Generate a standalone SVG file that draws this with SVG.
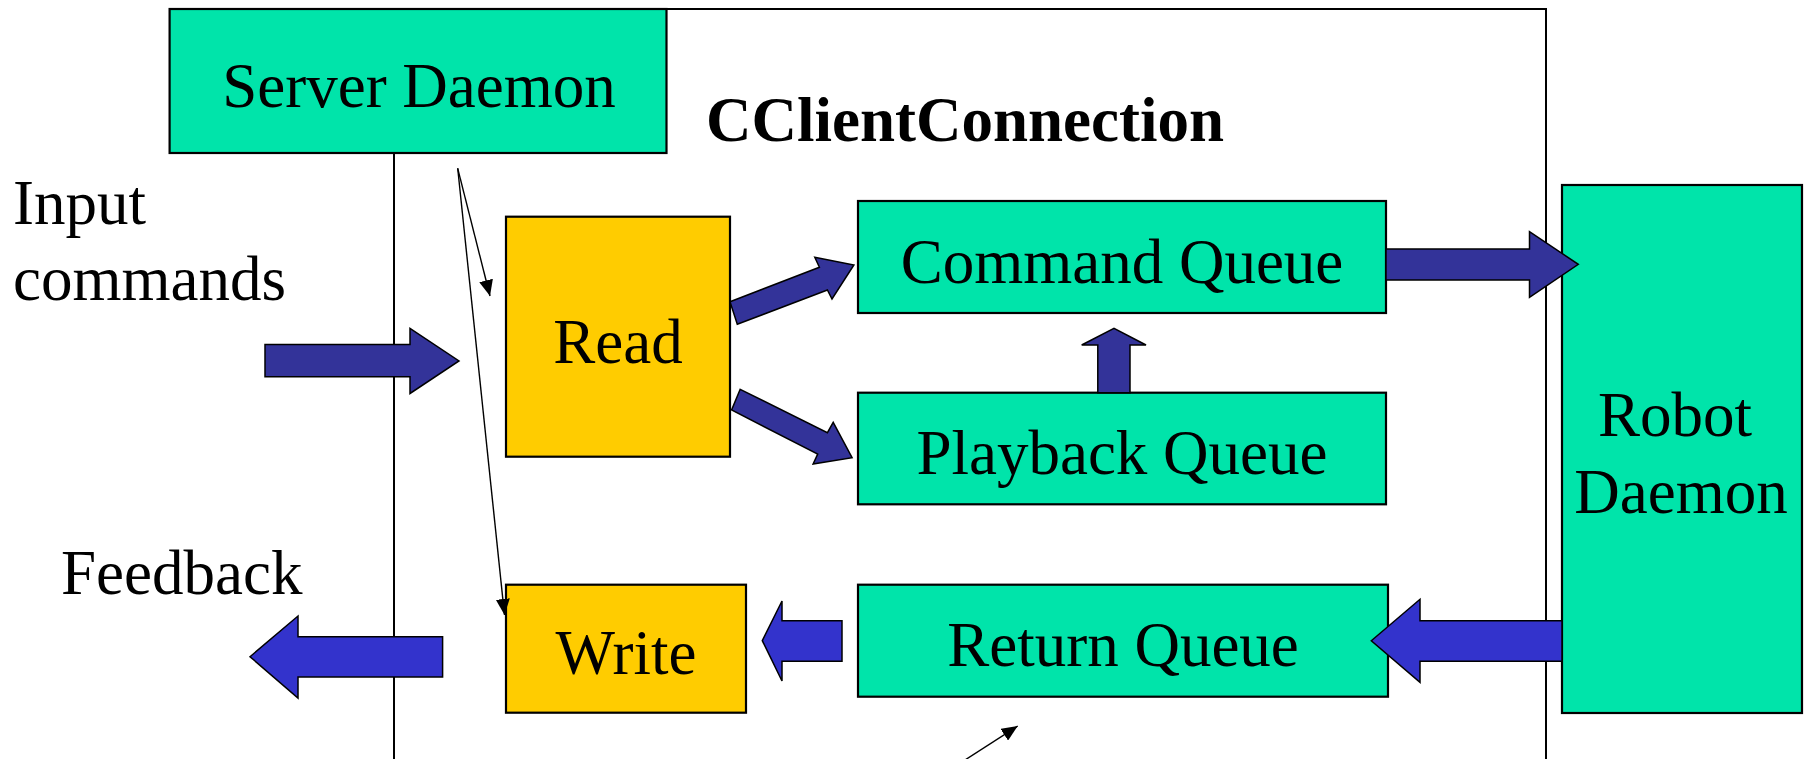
<svg xmlns="http://www.w3.org/2000/svg" width="1806" height="759" viewBox="0 0 1806 759">
  <style>
    .box { stroke: #000; stroke-width: 2.2; }
    .green { fill: #00E4AA; }
    .yellow { fill: #FFCC00; }
    .label { font-family: "Liberation Serif", "Times New Roman", serif; font-size: 63px; fill: #000; }
    .mid { text-anchor: middle; }
    .title { font-weight: bold; }
    .frame { fill: none; stroke: #000; stroke-width: 2; }
    .fat { stroke: #000; stroke-width: 1.5; stroke-linejoin: miter; }
    .navy { fill: #333399; }
    .blue { fill: #3333CC; }
    .thin { fill: none; stroke: #000; stroke-width: 1.4; marker-end: url(#tip); }
  </style>
  <defs>
    <marker id="tip" markerUnits="userSpaceOnUse" markerWidth="16" markerHeight="14" refX="16" refY="7" orient="auto">
      <path d="M0,0 L16,7 L0,14 Z" fill="#000"/>
    </marker>
  </defs>

  <!-- CClientConnection frame -->
  <g id="client-connection">
    <rect class="frame" x="394" y="9" width="1152" height="800"/>
    <text class="label title" x="706" y="141">CClientConnection</text>
  </g>

  <!-- outside labels -->
  <g id="input-label">
    <text class="label" x="13" y="224">Input</text>
    <text class="label" x="13" y="300">commands</text>
  </g>
  <g id="feedback-label">
    <text class="label" x="61" y="594">Feedback</text>
  </g>

  <g id="server-daemon">
    <rect class="box green" x="169.6" y="9" width="496.9" height="144"/>
    <text class="label mid" x="419" y="106.7">Server Daemon</text>
  </g>

  <g id="read">
    <rect class="box yellow" x="506" y="216.7" width="224" height="240"/>
    <text class="label mid" x="618" y="362.7">Read</text>
  </g>

  <g id="write">
    <rect class="box yellow" x="506" y="584.7" width="240" height="128"/>
    <text class="label mid" x="626" y="674">Write</text>
  </g>

  <g id="command-queue">
    <rect class="box green" x="858" y="201" width="528" height="112"/>
    <text class="label mid" x="1122" y="282.7">Command Queue</text>
  </g>

  <g id="playback-queue">
    <rect class="box green" x="858" y="392.7" width="528" height="111.6"/>
    <text class="label mid" x="1122" y="474.3">Playback Queue</text>
  </g>

  <g id="return-queue">
    <rect class="box green" x="858" y="584.7" width="530" height="112"/>
    <text class="label mid" x="1123" y="666">Return Queue</text>
  </g>

  <g id="robot-daemon">
    <rect class="box green" x="1562" y="185" width="240" height="528"/>
    <text class="label mid" x="1675" y="436">Robot</text>
    <text class="label mid" x="1681" y="513">Daemon</text>
  </g>

  <!-- connectors -->
  <g id="connectors">
    <!-- block arrows -->
    <polygon class="fat navy" points="265,344.5 410,344.5 410,328.3 459,361 410,393.5 410,376.7 265,376.7"/>
    <polygon class="fat navy" points="730,301.7 819.4,267.3 814.8,257.3 853.9,265 832,299 827.4,290 737.3,324.3"/>
    <polygon class="fat navy" points="740.2,389.3 827.4,432.7 833.2,422.3 852.1,457.7 813.1,464 817.7,454 731.6,410"/>
    <polygon class="fat navy" points="1097.8,392.7 1097.8,345 1081.7,345 1114,328.3 1146,345 1130,345 1130,392.7"/>
    <polygon class="fat navy" points="1386,249 1529.5,249 1529.5,231.7 1578.3,264.3 1529.5,297.3 1529.5,280 1386,280"/>
    <polygon class="fat blue" points="1371.3,640.7 1420,599.3 1420,620.7 1562,620.7 1562,661.3 1420,661.3 1420,682.3"/>
    <polygon class="fat blue" points="762.3,640.7 782,601 782,620.7 842,620.7 842,661.3 782,661.3 782,681"/>
    <polygon class="fat blue" points="250,656.7 298,616 298,636.7 442.6,636.7 442.6,677 298,677 298,698"/>
    <!-- thin pointers -->
    <line class="thin" x1="457.7" y1="168.3" x2="490" y2="296"/>
    <line class="thin" x1="457.7" y1="168.3" x2="504.5" y2="615"/>
    <line class="thin" x1="965" y1="760" x2="1017.7" y2="726"/>
  </g>
</svg>
